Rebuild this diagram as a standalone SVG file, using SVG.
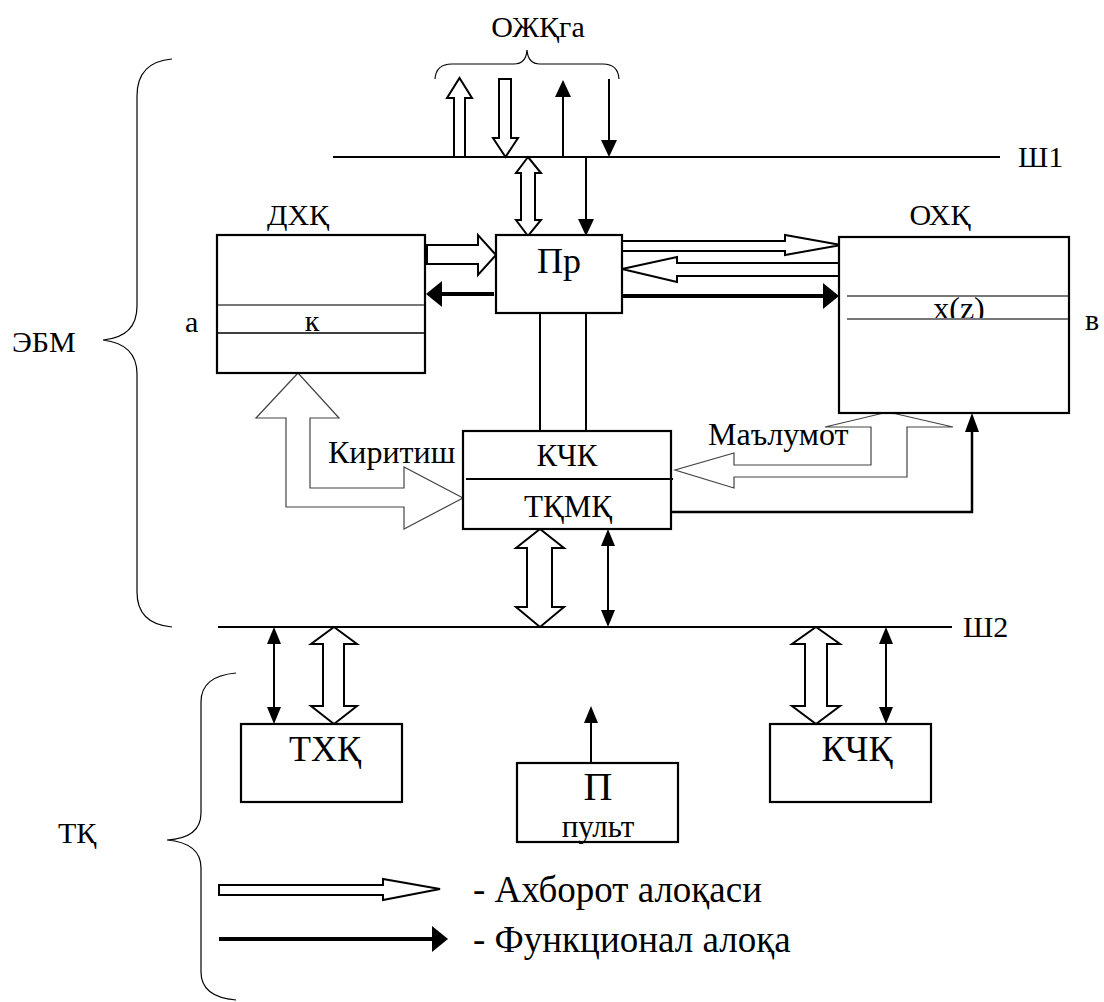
<svg xmlns="http://www.w3.org/2000/svg" width="1104" height="1002" viewBox="0 0 1104 1002" font-family="'Liberation Serif', 'DejaVu Serif', serif">
<defs>
<style>
text{font-family:"Liberation Serif","DejaVu Serif",serif;font-size:30px;fill:#000}
.box{fill:#fff;stroke:#000;stroke-width:2.2}
.bus{stroke:#000;stroke-width:2;fill:none}
.ln{stroke:#000;stroke-width:2;fill:none}
.thick{stroke:#000;stroke-width:4;fill:none}
.hollow{fill:#fff;stroke:#000;stroke-width:2;stroke-linejoin:miter}
.hollowg{fill:#fff;stroke:#444;stroke-width:1.2}
.brace{fill:none;stroke:#000;stroke-width:1.2}
.sep{stroke:#777;stroke-width:2}
.head{fill:#000;stroke:none}
.mid{text-anchor:middle}
.leg{font-size:37px}
.big{font-size:36px}
.m32{font-size:32px}
</style>
</defs>
<rect width="1104" height="1002" fill="#fff"/>

<g id="braces">
<path class="brace" d="M435,79 Q436,64 452,64 L514,64 Q526,64 527,50 Q528,64 540,64 L603,64 Q618,64 619,79"/>
<path class="brace" d="M172,59 Q137,62 137,96 L137,306 Q137,337 103,340 Q137,344 137,374 L137,592 Q137,624 172,627"/>
<path class="brace" d="M236,673 Q201,676 201,702 L201,813 Q201,838 167,840 Q201,843 201,868 L201,972 Q201,997 236,1000"/>
</g>

<g id="labels">
<text x="538" y="37" class="mid">ОЖҚга</text>
<text x="1018" y="167">Ш1</text>
<text x="963" y="637">Ш2</text>
<text x="12" y="352">ЭБМ</text>
<text x="58" y="843">ТҚ</text>
<text x="185" y="332">а</text>
<text x="1085" y="330">в</text>
<text x="298" y="225" class="mid">ДХҚ</text>
<text x="940" y="225" class="mid">ОХҚ</text>
<text x="328" y="463" class="m32">Киритиш</text>
<text x="708" y="445" class="m32">Маълумот</text>
</g>

<g id="connectors">
<line class="bus" x1="333" y1="157" x2="1000" y2="157"/>
<line class="bus" x1="218" y1="627" x2="952" y2="627"/>
<polygon class="hollow" points="454,157 454,98 447,98 459.5,78 472,98 465,98 465,157"/>
<polygon class="hollow" points="499,79 511,79 511,138 518,138 505.5,157 493,138 499,138"/>
<line class="ln" x1="563" y1="157" x2="563" y2="94"/>
<polygon class="head" points="563,80 555,97 571,97"/>
<line class="ln" x1="609" y1="79" x2="609" y2="143"/>
<polygon class="head" points="609,157 601,140 617,140"/>
<polygon class="hollow" points="528,157 541,173 535,173 535,220 541,220 528,236 516,220 521,220 521,173 516,173"/>
<line class="ln" x1="586" y1="157" x2="586" y2="222"/>
<polygon class="head" points="586,236 578,219 594,219"/>
<polygon class="hollow" points="427,245 478,245 478,235 496,255 478,275 478,264 427,264"/>
<line class="thick" x1="494" y1="294" x2="438" y2="294"/>
<polygon class="head" points="426,294 442,281 442,307"/>
<polygon class="hollow" points="622,241 785,241 785,235 841,245 785,255 785,251 622,251"/>
<polygon class="hollow" points="839,263 677,263 677,257 622,269 677,282 677,276 839,276"/>
<line class="thick" x1="622" y1="296" x2="826" y2="296"/>
<polygon class="head" points="839,296 823,283 823,309"/>
<line class="ln" x1="540" y1="313" x2="540" y2="431"/>
<line class="ln" x1="586" y1="313" x2="586" y2="431"/>
<polygon class="hollowg" points="298,373 339,418 310,418 310,488 404,488 404,467 463,498 404,529 404,507 286,507 286,418 256,418"/>
<polygon class="hollowg" points="888,412 953,427 907,427 907,477 734,477 734,488 675,470 734,453 734,465 871,465 871,427 825,427"/>
<polyline class="ln" style="stroke-width:2.5" points="659,512 972,512 972,428"/>
<polygon class="head" points="972,413 965,432 979,432"/>
<polygon class="hollow" points="540,529 564,548 552,548 552,607 564,607 540,627 516,607 527,607 527,548 516,548"/>
<line class="ln" x1="608" y1="544" x2="608" y2="612"/>
<polygon class="head" points="608,529 601,546 615,546"/>
<polygon class="head" points="608,627 601,610 615,610"/>
<line class="ln" x1="274" y1="642" x2="274" y2="709"/>
<polygon class="head" points="274,627 267,644 281,644"/>
<polygon class="head" points="274,724 267,707 281,707"/>
<polygon class="hollow" points="334,627 357,644 344,644 344,706 357,706 334,724 311,706 323,706 323,644 311,644"/>
<polygon class="hollow" points="816,627 840,644 827,644 827,706 840,706 816,724 792,706 805,706 805,644 792,644"/>
<line class="ln" x1="886" y1="642" x2="886" y2="709"/>
<polygon class="head" points="886,627 879,644 893,644"/>
<polygon class="head" points="886,724 879,707 893,707"/>
<line class="ln" x1="591" y1="763" x2="591" y2="719"/>
<polygon class="head" points="591,706 584,723 598,723"/>
</g>

<g id="node-dxk">
<rect class="box" x="217" y="235" width="208" height="138"/>
<line class="sep" x1="218" y1="305" x2="424" y2="305"/>
<line class="ln" style="stroke-width:1.5" x1="218" y1="333" x2="424" y2="333"/>
<text x="312" y="331" class="mid">к</text>
</g>

<g id="node-pr">
<rect class="box" x="496" y="235" width="126" height="78"/>
<text x="559" y="273" class="mid big">Пр</text>
</g>

<g id="node-oxk">
<rect class="box" x="839" y="237" width="230" height="176"/>
<text x="959" y="319" class="mid m32">x(z)</text>
<rect x="845" y="320" width="222" height="10" fill="#fff"/>
<line class="sep" x1="847" y1="296" x2="1068" y2="296"/>
<line class="sep" x1="847" y1="319" x2="1068" y2="319"/>
</g>

<g id="node-kchk">
<rect class="box" x="463" y="431" width="208" height="98"/>
<line class="ln" x1="466" y1="479" x2="673" y2="479"/>
<text x="567" y="466" class="mid" style="font-size:31px">КЧК</text>
<text x="568" y="517" class="mid" style="font-size:31px">ТҚМҚ</text>
</g>

<g id="node-txk">
<rect class="box" x="241" y="724" width="161" height="78"/>
<text x="325" y="761" class="mid big">ТХҚ</text>
</g>

<g id="node-pult">
<rect class="box" x="517" y="763" width="161" height="79"/>
<text x="598" y="800" class="mid" style="font-size:40px">П</text>
<text x="598" y="837" class="mid" style="font-size:31px">пульт</text>
</g>

<g id="node-kchq">
<rect class="box" x="770" y="724" width="161" height="78"/>
<text x="857" y="761" class="mid big">КЧҚ</text>
</g>

<g id="legend">
<polygon class="hollow" points="219,885 383,885 383,879 440,889 383,900 383,895 219,895"/>
<line class="thick" x1="219" y1="939" x2="435" y2="939"/>
<polygon class="head" points="448,939 432,926 432,952"/>
<text x="473" y="902" class="leg">- Ахборот алоқаси</text>
<text x="473" y="952" class="leg">- Функционал алоқа</text>
</g>
</svg>
